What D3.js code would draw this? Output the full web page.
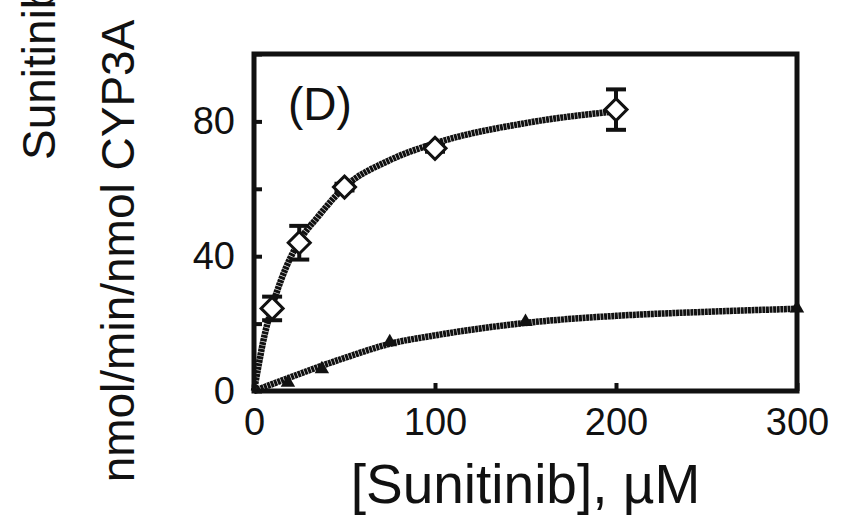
<!DOCTYPE html>
<html>
<head>
<meta charset="utf-8">
<script src="https://cdn.jsdelivr.net/npm/d3@7"></script>
<style>
  html, body { margin: 0; padding: 0; background: #fff; }
  text { font-family: "Liberation Sans", Arial, sans-serif; fill: #111; }
</style>
</head>
<body>
<svg id="chart"></svg>
<script>
// DATA
const diamondX = [10, 25, 50, 100, 200];
const diamondY = [24.5, 44, 60.5, 72, 83.5];
const diamondErr = [3.5, 5, 1, 1, 6];

const triangleX = [18.75, 37.5, 75, 150, 300];
const triangleY = [2.5, 6.5, 14.5, 20.5, 24.5];

// fitted curves
const fitTopX = [0, 2.5, 5, 10, 15, 25, 35, 50, 75, 100, 150, 200];
const fitTopY = [0, 7.5, 14.5, 25, 33, 44.5, 51.5, 60.5, 68.5, 73.5, 79.5, 83];
const fitBotX = [0, 18.75, 37.5, 50, 75, 100, 150, 200, 250, 300];
const fitBotY = [0, 3.8, 7.5, 9.8, 14, 16.5, 20.2, 22.3, 23.5, 24.4];

const xTicks = [0, 100, 200, 300];
const yTicks = [0, 20, 40, 60, 80, 100];
const yTickLabels = [0, 40, 80];

// SET VARIABLES
const width = 846, height = 516;
const margin = {left: 254, right: 49, top: 54, bottom: 125};

const svg = d3.select('#chart')
              .attr('width', width)
              .attr('height', height);

const x = d3.scaleLinear().domain([0, 300]).range([margin.left, width - margin.right]);
const y = d3.scaleLinear().domain([0, 100]).range([height - margin.bottom, margin.top]);

// AXES (ticks pointing inward)
const xAxis = d3.axisBottom(x).tickValues(xTicks).tickSizeInner(-8).tickSizeOuter(0).tickPadding(17);
const yAxis = d3.axisLeft(y).tickValues(yTicks).tickSizeInner(-8).tickSizeOuter(0).tickPadding(19)
                .tickFormat(d => yTickLabels.includes(d) ? d : '');

const gx = svg.append('g')
              .attr('transform', `translate(0, ${y(0)})`)
              .call(xAxis);
const gy = svg.append('g')
              .attr('transform', `translate(${x(0)}, 0)`)
              .call(yAxis);

[gx, gy].forEach(g => {
  g.select('.domain').remove();
  g.selectAll('.tick line').attr('stroke', '#111').attr('stroke-width', 4);
  g.selectAll('.tick text')
    .style('font-family', '"Liberation Sans", Arial, sans-serif')
    .style('font-size', '38px')
    .attr('fill', '#111');
});
gx.selectAll('.tick text').attr('dy', '0.71em');

// FRAME
svg.append('rect')
    .attr('x', x(0))
    .attr('y', y(100))
    .attr('width', x(300) - x(0))
    .attr('height', y(0) - y(100))
    .attr('fill', 'none')
    .attr('stroke', '#111')
    .attr('stroke-width', 5);

// FIT LINES
const line = d3.line()
               .x(d => x(d[0]))
               .y(d => y(d[1]))
               .curve(d3.curveMonotoneX);

[[fitTopX, fitTopY], [fitBotX, fitBotY]].forEach(([xs, ys]) => {
  svg.append('path')
      .datum(xs.map((v, i) => [v, ys[i]]))
      .attr('d', line)
      .attr('fill', 'none')
      .attr('stroke', '#111')
      .attr('stroke-width', 6.5)
      .attr('stroke-dasharray', '3,0.6');
});

// ERROR BARS
const diamonds = diamondX.map((v, i) => ({x: v, y: diamondY[i], e: diamondErr[i]}));
const err = svg.append('g').attr('stroke', '#111').attr('stroke-width', 4);
diamonds.forEach(d => {
  err.append('line')
     .attr('x1', x(d.x)).attr('x2', x(d.x))
     .attr('y1', y(d.y - d.e)).attr('y2', y(d.y + d.e));
  [d.y - d.e, d.y + d.e].forEach(v => {
    err.append('line')
       .attr('x1', x(d.x) - 10).attr('x2', x(d.x) + 10)
       .attr('y1', y(v)).attr('y2', y(v));
  });
});

// MARKERS
svg.append('g')
    .selectAll('path')
    .data(diamonds)
      .enter()
    .append('path')
      .attr('transform', d => `translate(${x(d.x)}, ${y(d.y)})`)
      .attr('d', 'M0,-11L11,0L0,11L-11,0Z')
      .attr('fill', '#fff')
      .attr('stroke', '#111')
      .attr('stroke-width', 3);

svg.append('g')
    .selectAll('path')
    .data(triangleX.map((v, i) => ({x: v, y: triangleY[i]})))
      .enter()
    .append('path')
      .attr('transform', d => `translate(${x(d.x)}, ${y(d.y)})`)
      .attr('d', d3.symbol(d3.symbolTriangle, 90))
      .attr('fill', '#111');

// LABELS
svg.append('text')
    .attr('x', 288)
    .attr('y', 120)
    .style('font-size', '46px')
    .text('(D)');

svg.append('text')
    .attr('x', (x(0) + x(300)) / 2)
    .attr('y', 503)
    .attr('text-anchor', 'middle')
    .style('font-size', '55px')
    .text('[Sunitinib], \u00b5M');

svg.append('text')
    .attr('transform', 'translate(134, 251) rotate(-90)')
    .attr('text-anchor', 'middle')
    .style('font-size', '46px')
    .text('nmol/min/nmol CYP3A');

svg.append('text')
    .attr('transform', 'translate(55, 160) rotate(-90)')
    .style('font-size', '46px')
    .text('Sunitinib');
</script>
</body>
</html>
